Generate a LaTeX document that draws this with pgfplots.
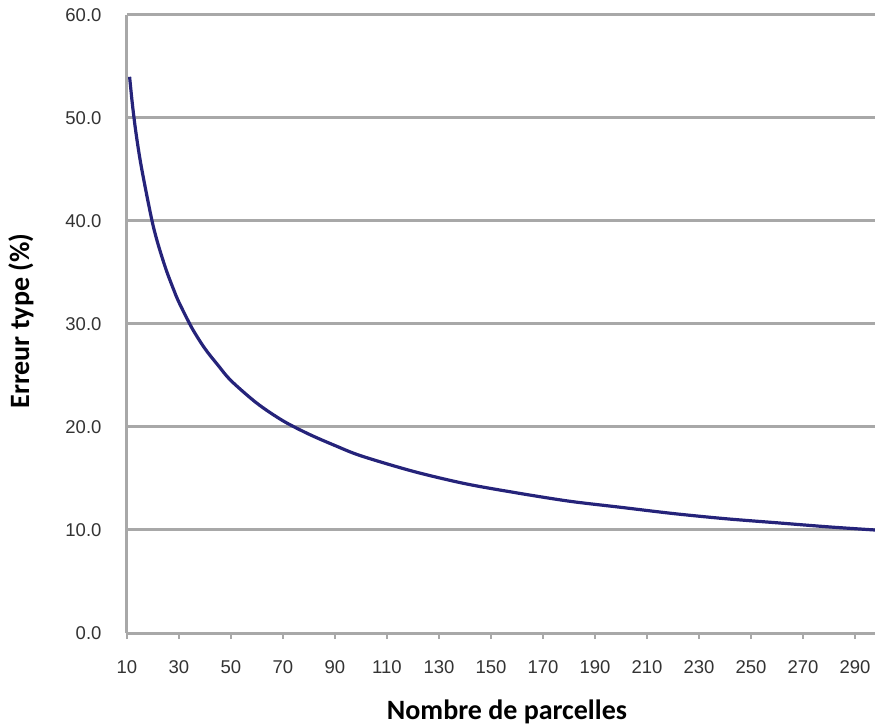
\documentclass[border=0pt]{standalone}
\usepackage{pgfplots}
\pgfplotsset{compat=1.18}
\usepackage{fontspec}
\setmainfont{Liberation Sans}
\newfontfamily\labfont{Carlito}
\definecolor{gridc}{HTML}{A8A8A8}
\definecolor{curvec}{HTML}{25237A}
\begin{document}
\begin{tikzpicture}[x=1pt,y=1pt]
\useasboundingbox (0,0) rectangle (875,725);
\begin{axis}[
  at={(127pt,92pt)}, anchor=south west,
  scale only axis, width=748pt, height=618pt,
  xmin=10, xmax=297.7, ymin=0, ymax=60,
  xtick={10,30,...,290}, ytick={0,10,...,60},
  axis x line*=bottom, axis y line*=left,
  ymajorgrids,
  grid style={gridc, line width=3pt},
  axis line style={gridc, line width=3pt},
  /pgf/number format/assume math mode=true,
  y tick label style={/pgf/number format/fixed, /pgf/number format/fixed zerofill, /pgf/number format/precision=1, xshift=-16pt},
  tick label style={font=\fontsize{18.5}{18.5}\selectfont, text=black!80},
  tick align=outside,
  major tick length=6pt,
  ytick style={draw=none},
  xtick style={gridc, line width=2pt},
  x tick label style={yshift=-18pt},
  xlabel={\labfont\bfseries Nombre de parcelles},
  ylabel={\labfont\bfseries Erreur type (\%)},
  label style={font=\fontsize{28}{28}\selectfont},
  xlabel style={at={(axis description cs:0.5,0)}, anchor=center, yshift=-79pt, xshift=6pt},
  ylabel style={at={(axis description cs:0,0.505)}, anchor=center, yshift=106pt},
  clip=false,
]
\addplot[curvec, line width=3.2pt, smooth] coordinates {
(11,54.0) (12,51.5) (13,49.4) (14,47.6) (15,46.0) (16,44.6) (18,42.0) (20,39.6)
(22,37.7) (25,35.3) (28,33.3) (30,32.1) (35,29.6) (40,27.6) (45,26.0) (50,24.5)
(60,22.3) (70,20.6) (80,19.3) (90,18.2) (100,17.2) (120,15.7) (140,14.5) (160,13.6)
(180,12.8) (200,12.2) (220,11.6) (240,11.1) (260,10.7) (280,10.3) (297.7,10.0)
};
\end{axis}
\end{tikzpicture}
\end{document}
